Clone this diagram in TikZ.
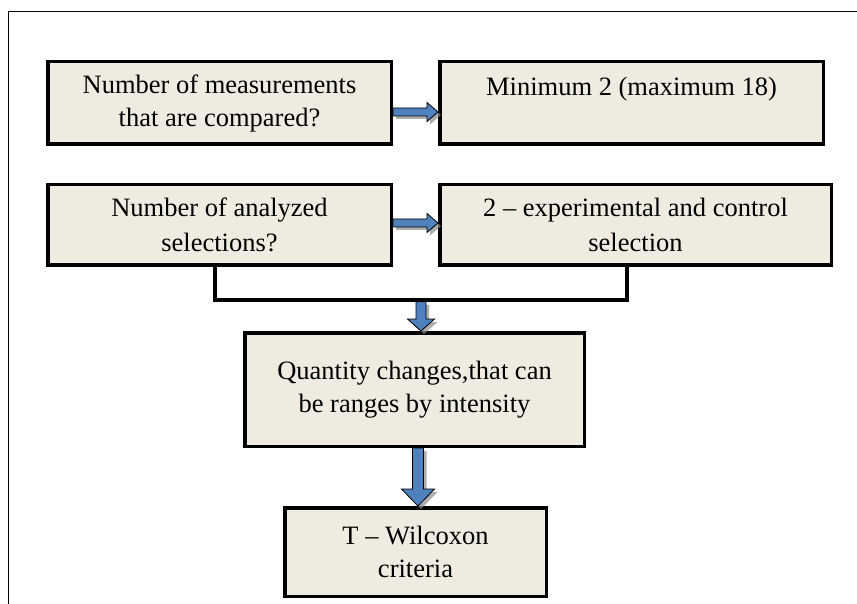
\documentclass[tikz,border=0pt]{standalone}
\usepackage{fontspec}
\setmainfont{Liberation Serif}
\usetikzlibrary{calc,shadows}
\definecolor{boxfill}{HTML}{EEECE1}
\definecolor{arrowblue}{HTML}{4F81BD}
\tikzset{
	box/.style={draw=black, line width=3.5pt, fill=boxfill, anchor=north west, align=center, inner sep=0pt, font=\fontsize{26.5}{33}\selectfont},
	blockarrow/.style={draw=black, line width=0.8pt, fill=arrowblue, drop shadow={shadow xshift=3pt, shadow yshift=-3pt, fill=black!45, opacity=0.7}},
	bracket/.style={line width=3.5pt}
}
\begin{document}
\begin{tikzpicture}[x=1pt,y=-1pt]
	\useasboundingbox (0,0) rectangle (857,604);
	\draw[line width=1.6pt] (8.5,604)--(8.5,11.5)--(857,11.5);
	\node[box, minimum width=343.5pt, minimum height=82.5pt] (numA) at (46,60) {Number of measurements\\that are compared?};
	\node[box, minimum width=383.5pt, minimum height=82.5pt] (numB) at (438,60) {Minimum 2 (maximum 18)\\ \mbox{}};
	\node[box, minimum width=343.5pt, minimum height=80.5pt, font=\fontsize{26.5}{35}\selectfont] (selA) at (46,183) {Number of analyzed\\selections?};
	\node[box, minimum width=391.5pt, minimum height=80.5pt, font=\fontsize{26.5}{35}\selectfont] (selB) at (438,183) {2 – experimental and control\\selection};
	\node[box, minimum width=339.5pt, minimum height=113.5pt] (qty) at (243,331) {Quantity changes,that can\\be ranges by intensity};
	\node[box, minimum width=261.5pt, minimum height=88.5pt] (crit) at (283,506) {T – Wilcoxon\\criteria};
	\coordinate (brL) at (215,300);
	\coordinate (brR) at (627,300);
	\coordinate (a1s) at ($(numA.east)+(0,9)$);
	\coordinate (a1t) at ($(numB.west)+(0,9)$);
	\coordinate (a2s) at ($(selA.east)+(0,-2)$);
	\coordinate (a2t) at ($(selB.west)+(0,-2)$);
	\coordinate (v1s) at ($(brL)!0.5!(brR)+(0,1.75)$);
	\coordinate (v1t) at (v1s |- qty.north);
	\coordinate (v2s) at ($(qty.south)+(3.5,0)$);
	\coordinate (v2t) at (v2s |- crit.north);
	\draw[blockarrow] ($(a1s)+(0,-4)$)--($(a1t)+(-11,-4)$)--($(a1t)+(-11,-9.5)$)--(a1t)--($(a1t)+(-11,9.5)$)--($(a1t)+(-11,4)$)--($(a1s)+(0,4)$)--cycle;
	\draw[blockarrow] ($(a2s)+(0,-4)$)--($(a2t)+(-11,-4)$)--($(a2t)+(-11,-9.5)$)--(a2t)--($(a2t)+(-11,9.5)$)--($(a2t)+(-11,4)$)--($(a2s)+(0,4)$)--cycle;
	\draw[bracket] (brL |- selA.south)--(brL)--(brR)--(brR |- selB.south);
	\draw[blockarrow] ($(v1s)+(-5,0)$)--($(v1t)+(-5,-12)$)--($(v1t)+(-13.5,-12)$)--(v1t)--($(v1t)+(13.5,-12)$)--($(v1t)+(5,-12)$)--($(v1s)+(5,0)$)--cycle;
	\draw[blockarrow] ($(v2s)+(-5.5,0)$)--($(v2t)+(-5.5,-17)$)--($(v2t)+(-16.5,-17)$)--(v2t)--($(v2t)+(16.5,-17)$)--($(v2t)+(5.5,-17)$)--($(v2s)+(5.5,0)$)--cycle;
\end{tikzpicture}
\end{document}
